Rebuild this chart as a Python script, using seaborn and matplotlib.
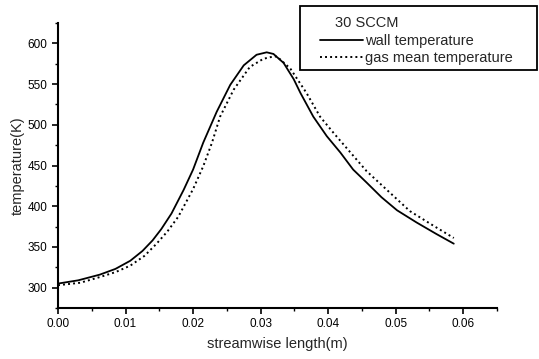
import matplotlib
matplotlib.use("Agg")
import matplotlib.pyplot as plt
from matplotlib.patches import Rectangle
from matplotlib.ticker import MultipleLocator, FormatStrFormatter
import seaborn as sns
import pandas as pd

# Data
wall_x = [0.0, 0.0030, 0.0062, 0.0085, 0.0107, 0.0125, 0.0140, 0.0153, 0.0168,
          0.0186, 0.0200, 0.0215, 0.0235, 0.0255, 0.0275, 0.0294, 0.0309, 0.0319,
          0.0334, 0.0349, 0.0359, 0.0378, 0.0398, 0.0418, 0.0437, 0.0457, 0.0479,
          0.0502, 0.0531, 0.0560, 0.0586]
wall_T = [305, 309, 316, 323, 333, 345, 358, 372, 391,
          420, 445, 478, 516, 549, 573, 586, 589, 587,
          576, 556, 539, 510, 486, 466, 445, 429, 411,
          395, 380, 366, 354]

gas_x = [0.0, 0.0033, 0.0062, 0.0085, 0.0107, 0.0128, 0.0146, 0.0162, 0.0178,
         0.0200, 0.0215, 0.0228, 0.0240, 0.0260, 0.0284, 0.0304, 0.0314, 0.0324,
         0.0344, 0.0368, 0.0388, 0.0408, 0.0433, 0.0457, 0.0487, 0.0521, 0.0556,
         0.0586]
gas_T = [303, 306, 313, 319, 327, 339, 354, 369, 387,
         421, 449, 478, 510, 543, 571, 581, 583, 584,
         569, 539, 510, 490, 466, 443, 420, 394, 376,
         361]

series_names = ["wall temperature", "gas mean temperature"]
legend_title = "30 SCCM"
x_label = "streamwise length(m)"
y_label = "temperature(K)"

wall = pd.DataFrame({"x": wall_x, "T": wall_T})
gas = pd.DataFrame({"x": gas_x, "T": gas_T})

sns.set_style("ticks")
plt.rcParams["font.family"] = ["Liberation Sans", "DejaVu Sans"]

fig = plt.figure(figsize=(5.39, 3.59), dpi=100)
ax = fig.add_axes([58 / 539, 1 - 308 / 359, (497 - 58) / 539, (308 - 23) / 359])

sns.lineplot(data=wall, x="x", y="T", ax=ax, color="black", lw=1.3,
             sort=False, estimator=None, label=series_names[0])
sns.lineplot(data=gas, x="x", y="T", ax=ax, color="black", lw=1.4,
             linestyle=(0, (1, 1.6)), sort=False, estimator=None, label=series_names[1])

ax.set_xlim(0, 0.065)
ax.set_ylim(275, 625)
ax.xaxis.set_major_locator(MultipleLocator(0.01))
ax.xaxis.set_minor_locator(MultipleLocator(0.005))
ax.xaxis.set_major_formatter(FormatStrFormatter("%.2f"))
ax.yaxis.set_major_locator(MultipleLocator(50))
ax.yaxis.set_minor_locator(MultipleLocator(25))
ax.tick_params(which="major", direction="out", length=4.5, width=1.2,
               labelsize=8.5, colors="black", pad=3)
ax.tick_params(which="minor", direction="out", length=2.5, width=1.0, colors="black")

ax.set_xlabel(x_label, fontsize=10.5, labelpad=5)
ax.set_ylabel(y_label, fontsize=10.5, labelpad=2)

for s in ["top", "right"]:
    ax.spines[s].set_visible(False)
for s in ["left", "bottom"]:
    ax.spines[s].set_linewidth(1.5)
    ax.spines[s].set_color("black")

handles, labels = ax.get_legend_handles_labels()
leg = ax.legend(handles, labels, title=legend_title, loc="upper left",
                bbox_to_anchor=(320 / 539, 1 - 16 / 359),
                bbox_transform=fig.transFigure, frameon=False,
                fontsize=10.5, title_fontsize=10.5, handlelength=2.95,
                handletextpad=0.15, borderpad=0, borderaxespad=0,
                labelspacing=0.25, alignment="left")
leg.get_title().set_x(15)

fig.add_artist(Rectangle((300 / 539, 1 - 70 / 359), 237 / 539, 64 / 359,
                         transform=fig.transFigure, fill=False,
                         lw=1.3, ec="black"))

fig.savefig("out.png", dpi=100)
